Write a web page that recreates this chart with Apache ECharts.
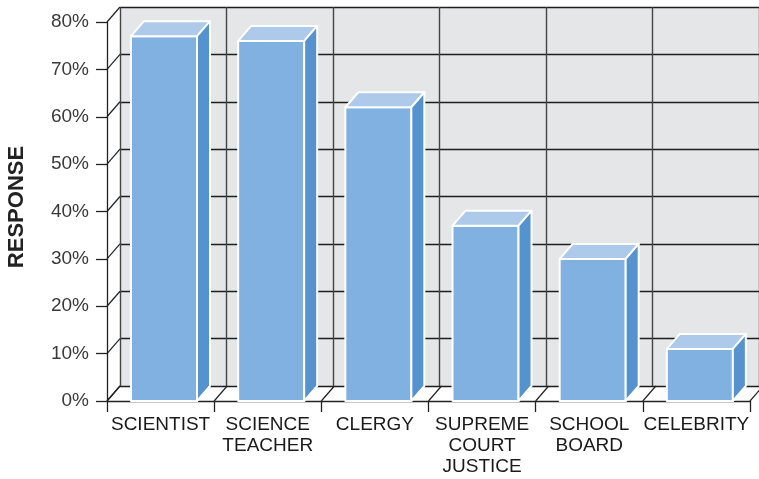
<!DOCTYPE html>
<html>
<head>
<meta charset="utf-8">
<script src="https://cdn.jsdelivr.net/npm/echarts@6/dist/echarts.min.js"></script>
<style>
  html, body { margin: 0; padding: 0; background: #fff; }
  #chart { width: 759px; height: 479px; }
</style>
</head>
<body>
<div id="chart"></div>
<script>
// 数据
const categories = ['SCIENTIST', 'SCIENCE\nTEACHER', 'CLERGY', 'SUPREME\nCOURT\nJUSTICE', 'SCHOOL\nBOARD', 'CELEBRITY'];
const responses = [77, 76, 62, 37, 30, 11];
const yTicks = [0, 10, 20, 30, 40, 50, 60, 70, 80];

// 透视偏移 (前 -> 后)
const DX = 13;
const DY = -15;
const LINE = '#222';

const chart = echarts.init(document.getElementById('chart'));

// 柱子：正面 + 顶面 + 侧面
function renderBar(params, api) {
    const idx = api.value(0);
    const val = api.value(1);
    const base = api.coord([idx, 0]);
    const top = api.coord([idx, val]);
    const band = api.size([1, 0])[0];
    const start = base[0] - band / 2;
    const x0 = start + band * 0.224;
    const x1 = start + band * 0.84;
    const y0 = base[1];
    const y1 = top[1];
    const style = { stroke: '#fff', lineWidth: 2, lineJoin: 'round' };
    return {
        type: 'group',
        children: [
            {
                type: 'polygon',
                shape: { points: [[x0, y1], [x1, y1], [x1, y0], [x0, y0]] },
                style: Object.assign({ fill: '#80b1e0' }, style)
            },
            {
                type: 'polygon',
                shape: { points: [[x0, y1], [x0 + DX, y1 + DY], [x1 + DX, y1 + DY], [x1, y1]] },
                style: Object.assign({ fill: '#adcaea' }, style)
            },
            {
                type: 'polygon',
                shape: { points: [[x1, y1], [x1 + DX, y1 + DY], [x1 + DX, y0 + DY], [x1, y0]] },
                style: Object.assign({ fill: '#5592ce' }, style)
            }
        ]
    };
}

// 左侧墙斜线
function renderWallLine(params, api) {
    const p = api.coord([0, api.value(1)]);
    const x = params.coordSys.x;
    return {
        type: 'line',
        shape: { x1: x, y1: p[1], x2: x + DX, y2: p[1] + DY },
        style: { stroke: LINE, lineWidth: 1.2 }
    };
}

// 地面斜线
function renderFloorLine(params, api) {
    const i = api.value(0);
    const p = api.coord([0, 0]);
    const band = api.size([1, 0])[0];
    const x = p[0] - band / 2 + i * band;
    return {
        type: 'line',
        shape: { x1: x, y1: p[1], x2: x + DX, y2: p[1] + DY },
        style: { stroke: LINE, lineWidth: 1.2 }
    };
}

const boundaries = categories.map((c, i) => i).concat([categories.length]);

const option = {
    animation: false,
    grid: [
        { left: 120, top: 7, width: 643, height: 379, show: true, backgroundColor: '#e5e6e8', borderWidth: 0 },
        { left: 107, top: 22, width: 643, height: 379 }
    ],
    xAxis: [
        {
            gridIndex: 0,
            type: 'category',
            data: categories,
            axisLine: { show: false },
            axisTick: { show: false },
            axisLabel: { show: false },
            splitLine: { show: true, interval: 0, lineStyle: { color: '#444', width: 1.4 } }
        },
        {
            gridIndex: 1,
            type: 'category',
            data: categories,
            axisLine: { lineStyle: { color: LINE, width: 1.3 } },
            axisTick: { show: true, interval: 0, length: 11, lineStyle: { color: LINE, width: 1.3 } },
            axisLabel: {
                interval: 0,
                margin: 13,
                fontSize: 19,
                lineHeight: 21,
                color: '#1a1a1a',
                fontFamily: 'Liberation Sans, Arial, sans-serif'
            },
            splitLine: { show: false }
        }
    ],
    yAxis: [
        {
            gridIndex: 0,
            type: 'value',
            min: 0,
            max: 80,
            interval: 10,
            axisLine: { show: false },
            axisTick: { show: false },
            axisLabel: { show: false },
            splitLine: { show: true, lineStyle: { color: '#1e1e1e', width: 1.4 } }
        },
        {
            gridIndex: 1,
            type: 'value',
            min: 0,
            max: 80,
            interval: 10,
            axisLine: { show: true, lineStyle: { color: LINE, width: 1.3 } },
            axisTick: { show: true, length: 11, lineStyle: { color: LINE, width: 1.3 } },
            axisLabel: {
                margin: 18,
                fontSize: 19,
                color: '#3a3a3a',
                fontFamily: 'Liberation Sans, Arial, sans-serif',
                formatter: '{value}%'
            },
            splitLine: { show: false }
        }
    ],
    graphic: [
        {
            type: 'text',
            x: 17,
            y: 207,
            rotation: Math.PI / 2,
            style: {
                text: 'RESPONSE',
                fontSize: 22,
                fontWeight: 'bold',
                fill: '#222',
                fontFamily: 'Liberation Sans, Arial, sans-serif',
                align: 'center',
                verticalAlign: 'middle'
            }
        }
    ],
    series: [
        {
            type: 'custom',
            xAxisIndex: 1,
            yAxisIndex: 1,
            z: 1,
            renderItem: renderWallLine,
            data: yTicks.map(v => [0, v])
        },
        {
            type: 'custom',
            xAxisIndex: 1,
            yAxisIndex: 1,
            z: 1,
            renderItem: renderFloorLine,
            data: boundaries.map(i => [i, 0])
        },
        {
            type: 'custom',
            xAxisIndex: 1,
            yAxisIndex: 1,
            z: 3,
            renderItem: renderBar,
            data: responses.map((v, i) => [i, v])
        }
    ]
};

chart.setOption(option);
</script>
</body>
</html>
